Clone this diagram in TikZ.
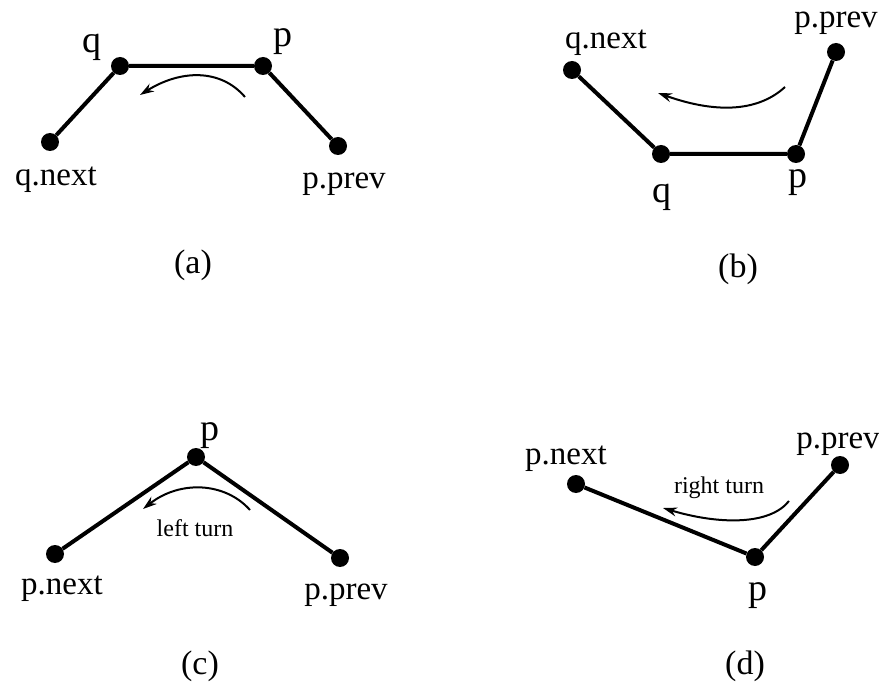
\documentclass[tikz,border=0pt]{standalone}
\usepackage{fontspec}
\setmainfont{Liberation Serif}
\usetikzlibrary{arrows.meta}
\begin{document}
\begin{tikzpicture}[x=1pt,y=-1pt,
  vtx/.style={circle,fill=black,inner sep=0pt,minimum size=18pt},
  edge/.style={line width=4pt},
  turn/.style={line width=2pt,-{Stealth[length=14pt,width=9pt]}},
  lbl/.style={anchor=base,inner sep=0pt,font=\fontsize{33}{33}\selectfont},
  lone/.style={anchor=base,inner sep=0pt,font=\fontsize{38}{38}\selectfont},
  small/.style={anchor=base,inner sep=0pt,font=\fontsize{24}{24}\selectfont},
  captxt/.style={anchor=base,inner sep=0pt,font=\fontsize{34}{34}\selectfont}]
\useasboundingbox (0,0) rectangle (879,695);
% (a)
\node[vtx] (aq) at (120,66) {};
\node[vtx] (ap) at (263,66) {};
\node[vtx] (aqn) at (50,142) {};
\node[vtx] (app) at (338,146) {};
\draw[edge] (aqn) -- (aq) -- (ap) -- (app);
\coordinate (as) at (245,97); \coordinate (ae) at (140,95);
\draw[turn] (as) .. controls (220,68) and (180,70) .. (ae);
\node[lone] (laq) at (92,53) {q};
\node[lone] (lap) at (283,47) {p};
\node[lbl] (laqn) at (56,186) {q.next};
\node[lbl] (lapp) at (344,189) {p.prev};
\node[captxt] (la) at (193,274) {(a)};
% (b)
\node[vtx] (bqn) at (572,70) {};
\node[vtx] (bpp) at (836,52) {};
\node[vtx] (bq) at (661,154) {};
\node[vtx] (bp) at (796,154) {};
\draw[edge] (bqn) -- (bq) -- (bp) -- (bpp);
\coordinate (bs) at (785,87); \coordinate (be) at (658,93);
\draw[turn] (bs) .. controls (760,110) and (720,115) .. (be);
\node[lbl] (lbqn) at (606,49) {q.next};
\node[lbl] (lbpp) at (836,28) {p.prev};
\node[lone] (lbq) at (662,203) {q};
\node[lone] (lbp) at (798,188) {p};
\node[captxt] (lb) at (738,278) {(b)};
% (c)
\node[vtx] (cp) at (196,457) {};
\node[vtx] (cpn) at (55,554) {};
\node[vtx] (cpp) at (340,558) {};
\draw[edge] (cpn) -- (cp) -- (cpp);
\coordinate (cs) at (250,510); \coordinate (ce) at (143,509);
\draw[turn] (cs) .. controls (225,482) and (180,480) .. (ce);
\node[lone] (lcp) at (210,440) {p};
\node[lbl] (lcpn) at (62,594) {p.next};
\node[lbl] (lcpp) at (346,599) {p.prev};
\node[small] (lct) at (195,536) {left turn};
\node[captxt] (lc) at (200,674) {(c)};
% (d)
\node[vtx] (dpn) at (576,484) {};
\node[vtx] (dpp) at (840,465) {};
\node[vtx] (dp) at (755,557) {};
\draw[edge] (dpn) -- (dp) -- (dpp);
\coordinate (ds) at (789,501); \coordinate (de) at (663,508);
\draw[turn] (ds) .. controls (770,525) and (720,525) .. (de);
\node[lbl] (ldpn) at (566,464) {p.next};
\node[lbl] (ldpp) at (838,448) {p.prev};
\node[lone] (ldp) at (758,600) {p};
\node[small] (ldt) at (719,493) {right turn};
\node[captxt] (ld) at (745,674) {(d)};
\end{tikzpicture}
\end{document}
